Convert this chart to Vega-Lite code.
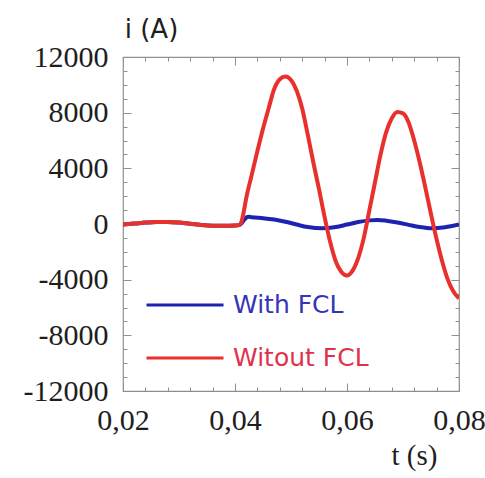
{
  "$schema": "https://vega.github.io/schema/vega-lite/v6.json",
  "width": 336,
  "height": 334,
  "autosize": {"type": "none"},
  "padding": {"left": 123, "top": 57, "right": 26, "bottom": 87},
  "background": "white",
  "config": {
    "view": {"stroke": "#8f8f8f", "strokeWidth": 1.2},
    "axis": {
      "grid": false,
      "domain": false,
      "tickColor": "#8f8f8f",
      "tickWidth": 1,
      "labelFont": "Liberation Serif",
      "labelFontSize": 30,
      "labelColor": "#1e1e1e",
      "titleFont": "Liberation Serif",
      "titleFontSize": 29,
      "titleFontWeight": "normal",
      "titleColor": "#1e1e1e"
    }
  },
  "data": {
    "values": [
      {"t": 0.020, "i": -30, "case": "With FCL"},
      {"t": 0.022, "i": 30, "case": "With FCL"},
      {"t": 0.024, "i": 100, "case": "With FCL"},
      {"t": 0.026, "i": 150, "case": "With FCL"},
      {"t": 0.028, "i": 150, "case": "With FCL"},
      {"t": 0.030, "i": 100, "case": "With FCL"},
      {"t": 0.032, "i": 10, "case": "With FCL"},
      {"t": 0.034, "i": -70, "case": "With FCL"},
      {"t": 0.036, "i": -120, "case": "With FCL"},
      {"t": 0.038, "i": -130, "case": "With FCL"},
      {"t": 0.040, "i": -110, "case": "With FCL"},
      {"t": 0.0408, "i": -60, "case": "With FCL"},
      {"t": 0.0412, "i": 60, "case": "With FCL"},
      {"t": 0.0417, "i": 330, "case": "With FCL"},
      {"t": 0.0422, "i": 500, "case": "With FCL"},
      {"t": 0.0426, "i": 520, "case": "With FCL"},
      {"t": 0.0430, "i": 480, "case": "With FCL"},
      {"t": 0.045, "i": 420, "case": "With FCL"},
      {"t": 0.047, "i": 320, "case": "With FCL"},
      {"t": 0.049, "i": 160, "case": "With FCL"},
      {"t": 0.051, "i": -40, "case": "With FCL"},
      {"t": 0.053, "i": -220, "case": "With FCL"},
      {"t": 0.0555, "i": -310, "case": "With FCL"},
      {"t": 0.058, "i": -220, "case": "With FCL"},
      {"t": 0.060, "i": -40, "case": "With FCL"},
      {"t": 0.062, "i": 140, "case": "With FCL"},
      {"t": 0.064, "i": 260, "case": "With FCL"},
      {"t": 0.0655, "i": 290, "case": "With FCL"},
      {"t": 0.067, "i": 240, "case": "With FCL"},
      {"t": 0.069, "i": 110, "case": "With FCL"},
      {"t": 0.071, "i": -60, "case": "With FCL"},
      {"t": 0.073, "i": -220, "case": "With FCL"},
      {"t": 0.0752, "i": -310, "case": "With FCL"},
      {"t": 0.0775, "i": -240, "case": "With FCL"},
      {"t": 0.080, "i": -40, "case": "With FCL"},

      {"t": 0.020, "i": -30, "case": "Witout FCL"},
      {"t": 0.022, "i": 30, "case": "Witout FCL"},
      {"t": 0.024, "i": 100, "case": "Witout FCL"},
      {"t": 0.026, "i": 150, "case": "Witout FCL"},
      {"t": 0.028, "i": 150, "case": "Witout FCL"},
      {"t": 0.030, "i": 100, "case": "Witout FCL"},
      {"t": 0.032, "i": 10, "case": "Witout FCL"},
      {"t": 0.034, "i": -70, "case": "Witout FCL"},
      {"t": 0.036, "i": -120, "case": "Witout FCL"},
      {"t": 0.038, "i": -130, "case": "Witout FCL"},
      {"t": 0.040, "i": -110, "case": "Witout FCL"},
      {"t": 0.0408, "i": -60, "case": "Witout FCL"},
      {"t": 0.0411, "i": 100, "case": "Witout FCL"},
      {"t": 0.0415, "i": 750, "case": "Witout FCL"},
      {"t": 0.042, "i": 1850, "case": "Witout FCL"},
      {"t": 0.043, "i": 3550, "case": "Witout FCL"},
      {"t": 0.044, "i": 5250, "case": "Witout FCL"},
      {"t": 0.045, "i": 6850, "case": "Witout FCL"},
      {"t": 0.046, "i": 8300, "case": "Witout FCL"},
      {"t": 0.047, "i": 9700, "case": "Witout FCL"},
      {"t": 0.048, "i": 10400, "case": "Witout FCL"},
      {"t": 0.049, "i": 10600, "case": "Witout FCL"},
      {"t": 0.050, "i": 10350, "case": "Witout FCL"},
      {"t": 0.051, "i": 9600, "case": "Witout FCL"},
      {"t": 0.052, "i": 8300, "case": "Witout FCL"},
      {"t": 0.053, "i": 6400, "case": "Witout FCL"},
      {"t": 0.054, "i": 4400, "case": "Witout FCL"},
      {"t": 0.055, "i": 2500, "case": "Witout FCL"},
      {"t": 0.056, "i": 500, "case": "Witout FCL"},
      {"t": 0.057, "i": -1300, "case": "Witout FCL"},
      {"t": 0.058, "i": -2700, "case": "Witout FCL"},
      {"t": 0.059, "i": -3450, "case": "Witout FCL"},
      {"t": 0.060, "i": -3700, "case": "Witout FCL"},
      {"t": 0.061, "i": -3350, "case": "Witout FCL"},
      {"t": 0.062, "i": -2450, "case": "Witout FCL"},
      {"t": 0.063, "i": -1000, "case": "Witout FCL"},
      {"t": 0.064, "i": 1000, "case": "Witout FCL"},
      {"t": 0.065, "i": 3000, "case": "Witout FCL"},
      {"t": 0.066, "i": 5000, "case": "Witout FCL"},
      {"t": 0.067, "i": 6600, "case": "Witout FCL"},
      {"t": 0.068, "i": 7600, "case": "Witout FCL"},
      {"t": 0.069, "i": 8050, "case": "Witout FCL"},
      {"t": 0.070, "i": 7950, "case": "Witout FCL"},
      {"t": 0.071, "i": 7300, "case": "Witout FCL"},
      {"t": 0.072, "i": 6000, "case": "Witout FCL"},
      {"t": 0.073, "i": 4400, "case": "Witout FCL"},
      {"t": 0.074, "i": 2600, "case": "Witout FCL"},
      {"t": 0.075, "i": 700, "case": "Witout FCL"},
      {"t": 0.076, "i": -1100, "case": "Witout FCL"},
      {"t": 0.077, "i": -2700, "case": "Witout FCL"},
      {"t": 0.078, "i": -4000, "case": "Witout FCL"},
      {"t": 0.079, "i": -4850, "case": "Witout FCL"},
      {"t": 0.080, "i": -5350, "case": "Witout FCL"}
    ]
  },
  "layer": [
    {
      "mark": {"type": "line", "interpolate": "monotone", "strokeWidth": 4, "clip": true},
      "encoding": {
        "x": {
          "field": "t", "type": "quantitative",
          "scale": {"domain": [0.02, 0.08], "nice": false, "zero": false},
          "axis": {
            "orient": "bottom",
            "values": [0.02, 0.04, 0.06, 0.08],
            "tickSize": -8,
            "labelPadding": 22,
            "labelExpr": "replace(format(datum.value, '.2f'), '.', ',')",
            "labelFlush": false,
            "title": "t (s)",
            "titleX": 291,
            "titleY": 64,
            "titleAlign": "center",
            "titleBaseline": "middle"
          }
        },
        "y": {
          "field": "i", "type": "quantitative",
          "scale": {"domain": [-12000, 12000], "nice": false},
          "axis": {
            "orient": "left",
            "values": [-12000, -8000, -4000, 0, 4000, 8000, 12000],
            "tickSize": -8,
            "labelPadding": 23,
            "labelExpr": "'' + datum.value",
            "labelFlush": false,
            "title": "i (A)",
            "titleFont": "DejaVu Sans",
            "titleFontSize": 26,
            "titleAngle": 0,
            "titleX": 28,
            "titleY": -28,
            "titleAlign": "center",
            "titleBaseline": "middle"
          }
        },
        "color": {
          "field": "case", "type": "nominal",
          "scale": {"domain": ["With FCL", "Witout FCL"], "range": ["#1e22b0", "#e8302c"]},
          "legend": {
            "title": null,
            "orient": "none",
            "legendX": 22,
            "legendY": 208,
            "padding": 0,
            "symbolType": "stroke",
            "symbolSize": 5929,
            "symbolStrokeWidth": 3,
            "rowPadding": -28,
            "labelOffset": 8,
            "labelFont": "DejaVu Sans",
            "labelFontSize": 25,
            "labelColor": {"expr": "datum.label === 'With FCL' ? '#3434b4' : '#e3304a'"}
          }
        }
      }
    },
    {
      "mark": {"type": "line", "strokeOpacity": 0},
      "encoding": {
        "x": {
          "field": "t", "type": "quantitative",
          "axis": {
            "orient": "bottom",
            "values": [0.024, 0.028, 0.032, 0.036, 0.044, 0.048, 0.052, 0.056, 0.064, 0.068, 0.072, 0.076],
            "tickSize": -4, "labels": false, "title": null
          }
        },
        "y": {
          "field": "i", "type": "quantitative",
          "axis": {
            "orient": "left",
            "values": [-11000, -10000, -9000, -7000, -6000, -5000, -3000, -2000, -1000, 1000, 2000, 3000, 5000, 6000, 7000, 9000, 10000, 11000],
            "tickSize": -4, "labels": false, "title": null
          }
        }
      }
    },
    {
      "mark": {"type": "line", "strokeOpacity": 0},
      "encoding": {
        "x": {
          "field": "t", "type": "quantitative",
          "axis": {
            "orient": "top",
            "values": [0.02, 0.04, 0.06, 0.08],
            "tickSize": -8, "labels": false, "title": null
          }
        },
        "y": {
          "field": "i", "type": "quantitative",
          "axis": {
            "orient": "right",
            "values": [-12000, -8000, -4000, 0, 4000, 8000, 12000],
            "tickSize": -8, "labels": false, "title": null
          }
        }
      }
    },
    {
      "mark": {"type": "line", "strokeOpacity": 0},
      "encoding": {
        "x": {
          "field": "t", "type": "quantitative",
          "axis": {
            "orient": "top",
            "values": [0.024, 0.028, 0.032, 0.036, 0.044, 0.048, 0.052, 0.056, 0.064, 0.068, 0.072, 0.076],
            "tickSize": -4, "labels": false, "title": null
          }
        },
        "y": {
          "field": "i", "type": "quantitative",
          "axis": {
            "orient": "right",
            "values": [-11000, -10000, -9000, -7000, -6000, -5000, -3000, -2000, -1000, 1000, 2000, 3000, 5000, 6000, 7000, 9000, 10000, 11000],
            "tickSize": -4, "labels": false, "title": null
          }
        }
      }
    }
  ],
  "resolve": {"axis": {"x": "independent", "y": "independent"}}
}
